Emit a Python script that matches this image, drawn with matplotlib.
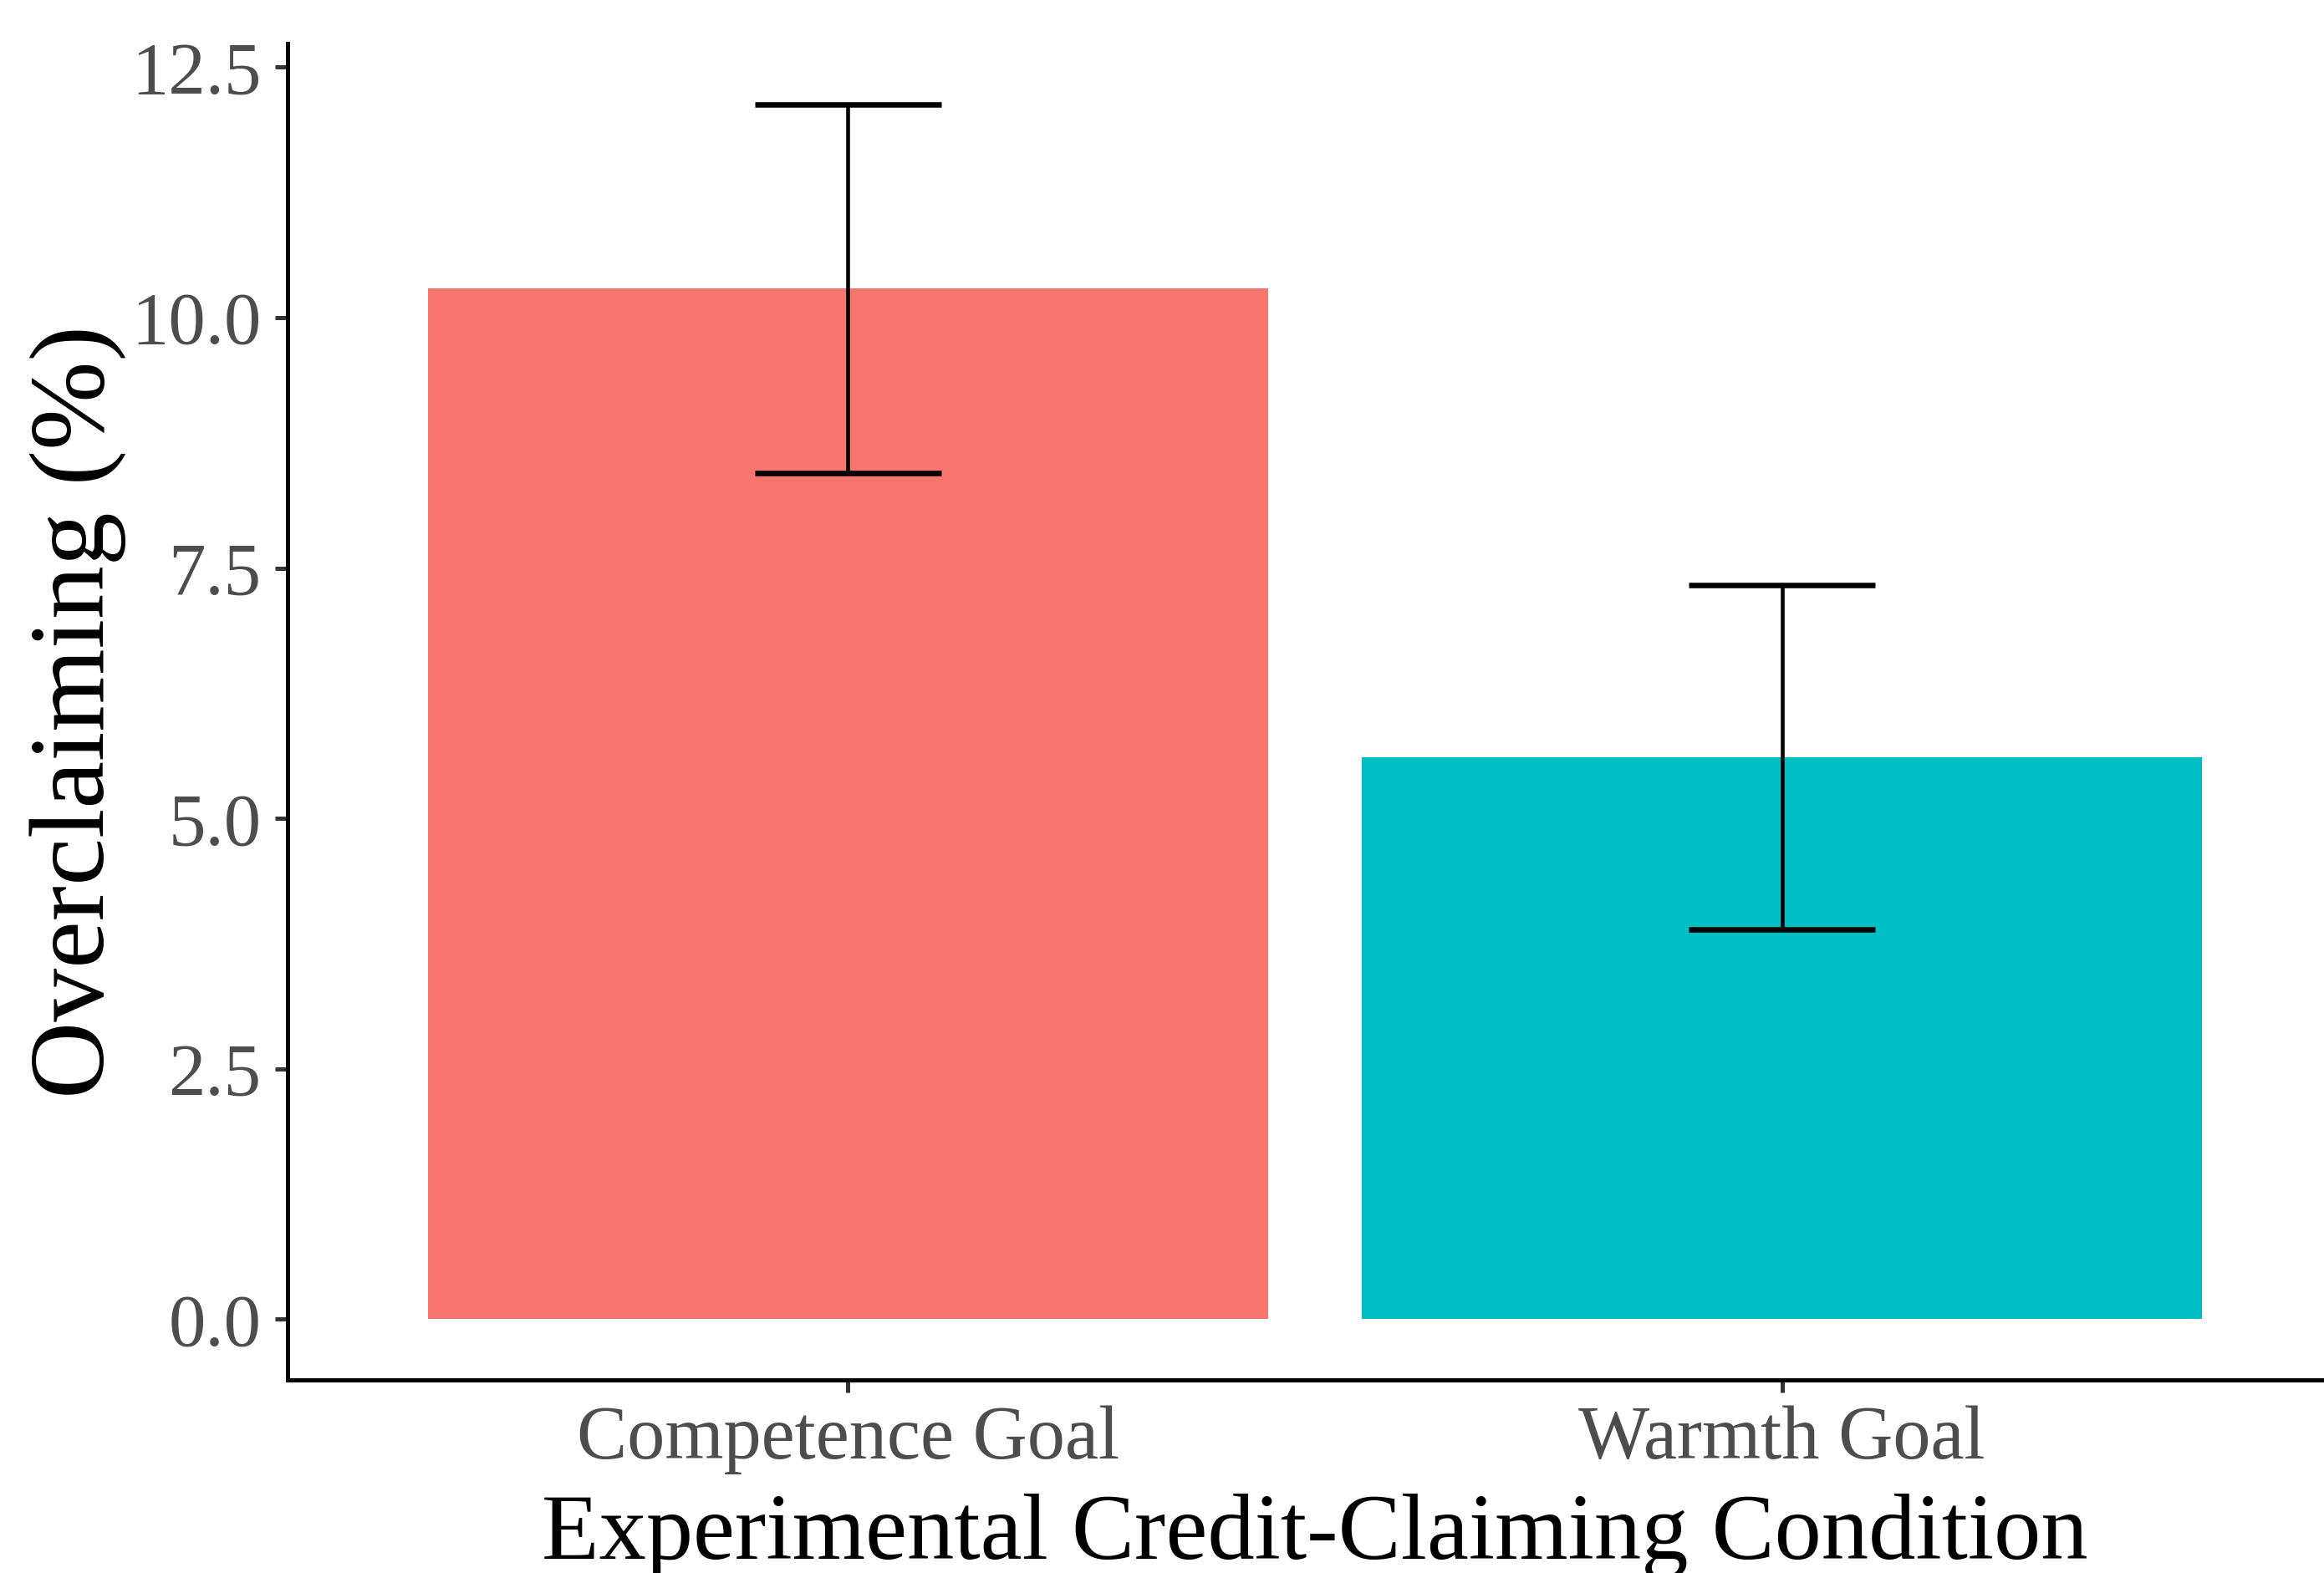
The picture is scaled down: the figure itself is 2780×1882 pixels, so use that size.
import matplotlib
matplotlib.use("Agg")
from matplotlib import pyplot as plt

# overclaiming by goal condition (mean and standard error, %)
conditions = ["Competence Goal", "Warmth Goal"]
means = [10.29, 5.61]
errors = [1.84, 1.72]
colors = ["#F8766D", "#00BFC4"]
y_ticks = [0.0, 2.5, 5.0, 7.5, 10.0, 12.5]

plt.rcParams["font.family"] = ["Liberation Serif", "DejaVu Serif"]

W, H = 2780, 1882
fig = plt.figure(figsize=(W / 100, H / 100), dpi=100)
# panel runs slightly past the right edge of the canvas
ax = fig.add_axes([344 / W, 231 / H, (2802 - 344) / W, (1830 - 231) / H])

x = [1, 2]
ax.bar(x, means, width=0.9, color=colors, zorder=1)

lower = [m - e for m, e in zip(means, errors)]
upper = [m + e for m, e in zip(means, errors)]
ax.vlines(x, lower, upper, color="black", linewidth=3.3, zorder=2)
for xi, lo, hi in zip(x, lower, upper):
    ax.hlines([lo, hi], xi - 0.1, xi + 0.1, color="black", linewidth=4.7, zorder=2)

# ggplot-style expansion: 5% of data range on y, 0.6 on the discrete x scale
top = max(upper)
ax.set_ylim(-0.05 * top, 1.05 * top)
ax.set_xlim(0.4, 2.6)

ax.set_yticks(y_ticks)
ax.set_yticklabels([f"{v:.1f}" for v in y_ticks])
ax.set_xticks(x)
ax.set_xticklabels(conditions)

for side in ["top", "right"]:
    ax.spines[side].set_visible(False)
for side in ["left", "bottom"]:
    ax.spines[side].set_linewidth(3.6)
    ax.spines[side].set_color("black")

ax.tick_params(axis="both", length=10.8, width=3.6, color="#333333",
               labelcolor="#4D4D4D")
ax.tick_params(axis="y", labelsize=64, pad=12)
ax.tick_params(axis="x", labelsize=65, pad=11)

ax.set_ylabel("Overclaiming (%)", fontsize=92, color="black", labelpad=4)
ax.set_xlabel("Experimental Credit-Claiming Condition", fontsize=81,
              color="black", labelpad=17)

fig.savefig("out.png", dpi=100)
